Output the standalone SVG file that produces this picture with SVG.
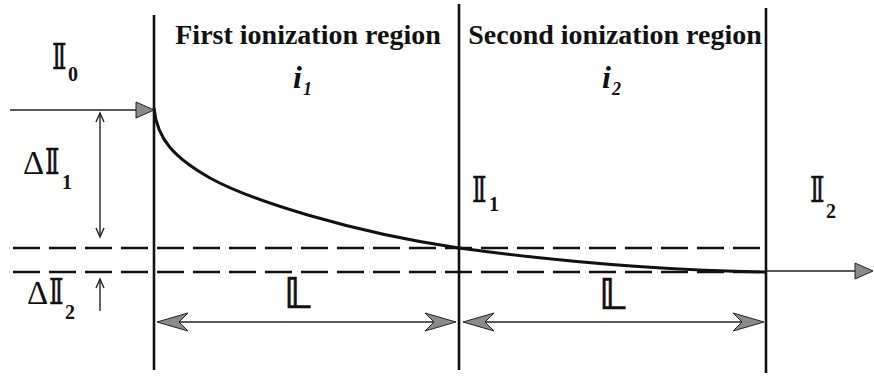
<svg xmlns="http://www.w3.org/2000/svg" width="874" height="376" viewBox="0 0 874 376">
<style>
.bound{stroke:#111;stroke-width:2.6;fill:none}
.dash{stroke:#111;stroke-width:2.4;stroke-dasharray:27 9;fill:none}
.thin{stroke:#222;stroke-width:1.4;fill:none}
.curve{stroke:#111;stroke-width:3;fill:none}
.tri{fill:#8a8a8a;stroke:#222;stroke-width:1}
.vhead{fill:none;stroke:#222;stroke-width:1.4}
.title{font-family:"Liberation Serif",serif;font-weight:bold;font-size:28px;fill:#111}
.ital{font-family:"Liberation Serif",serif;font-weight:bold;font-style:italic;fill:#111}
.ds{font-family:"DejaVu Sans",sans-serif;font-weight:bold;fill:#111;stroke:#111;stroke-width:0.5}
.sym{font-family:"Liberation Serif",serif;fill:#111}
.sub{font-family:"Liberation Serif",serif;font-weight:bold;fill:#111}
</style>
<defs>
<path id="barbL" d="M0,0 L31,-9 L22,0 L31,9 Z"/>
<path id="triR" d="M-18,-8 L0,0 L-18,8 Z"/>
</defs>
<rect width="874" height="376" fill="#fff"/>

<g id="region1">
<line class="bound" x1="154" y1="15" x2="154" y2="370"/>
<text class="title" x="308" y="44" text-anchor="middle">First ionization region</text>
<text class="ital" x="293" y="88" font-size="32">i</text>
<text class="ital" x="303" y="95" font-size="18">1</text>
</g>
<g id="region2">
<line class="bound" x1="459" y1="4" x2="459" y2="370"/>
<line class="bound" x1="766" y1="8" x2="766" y2="373"/>
<text class="title" x="615" y="44" text-anchor="middle">Second ionization region</text>
<text class="ital" x="602" y="88" font-size="32">i</text>
<text class="ital" x="612" y="95" font-size="18">2</text>
</g>

<g id="labels">
<text class="ds" x="51" y="69" font-size="36">𝕀</text>
<text class="sub" x="68" y="81" font-size="20">0</text>
<text class="sym" x="23" y="174" font-size="33">Δ</text>
<text class="ds" x="44" y="174" font-size="36">𝕀</text>
<text class="sub" x="62" y="189" font-size="20">1</text>
<text class="sym" x="27" y="304" font-size="33">Δ</text>
<text class="ds" x="48" y="304" font-size="36">𝕀</text>
<text class="sub" x="65" y="319" font-size="20">2</text>
<text class="ds" x="471" y="202" font-size="36">𝕀</text>
<text class="sub" x="489" y="211" font-size="20">1</text>
<text class="ds" x="809" y="202" font-size="36">𝕀</text>
<text class="sub" x="826" y="218" font-size="20">2</text>
<text class="ds" x="284" y="308" font-size="42">𝕃</text>
<text class="ds" x="599" y="309" font-size="42">𝕃</text>
</g>

<g id="connectors">
<path class="curve" d="M154,108 C157,140 175,158 210,178 C250,200 350,232 459,248 C540,259 640,270 766,272"/>
<line class="dash" x1="13" y1="248" x2="766" y2="248"/>
<line class="dash" x1="13" y1="272" x2="766" y2="272"/>
<line class="thin" x1="10" y1="110" x2="140" y2="110"/>
<use href="#triR" class="tri" x="154" y="110"/>
<line class="thin" x1="766" y1="271" x2="856" y2="271"/>
<use href="#triR" class="tri" x="873" y="271"/>
<line class="thin" x1="100" y1="113" x2="100" y2="236"/>
<polyline class="vhead" points="96,122 100,113 104,122"/>
<polyline class="vhead" points="96,228 100,237 104,228"/>
<line class="thin" x1="100" y1="279" x2="100" y2="311"/>
<polyline class="vhead" points="96,288 100,279 104,288"/>
<line class="thin" x1="170" y1="322" x2="445" y2="322"/>
<use href="#barbL" class="tri" x="157" y="322"/>
<use href="#barbL" class="tri" transform="translate(456,322) scale(-1,1)"/>
<line class="thin" x1="476" y1="322" x2="752" y2="322"/>
<use href="#barbL" class="tri" x="463" y="322"/>
<use href="#barbL" class="tri" transform="translate(764,322) scale(-1,1)"/>
</g>
</svg>
